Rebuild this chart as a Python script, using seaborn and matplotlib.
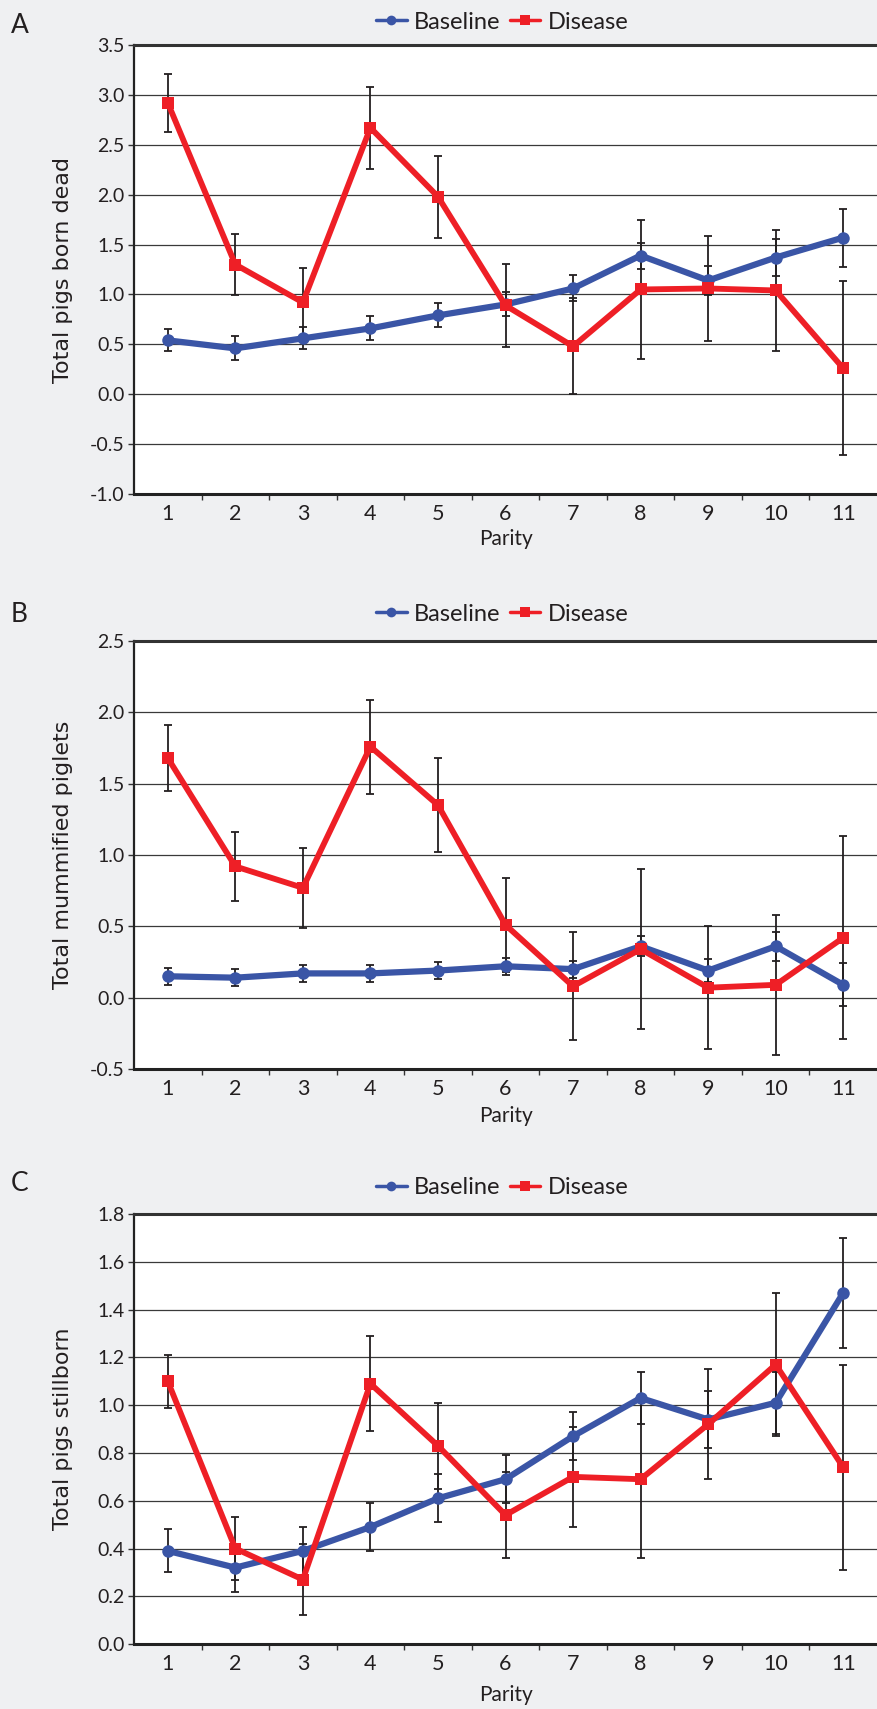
import numpy as np
import pandas as pd
import seaborn as sns
import matplotlib.pyplot as plt
from matplotlib.lines import Line2D
from matplotlib.ticker import FixedLocator, FormatStrFormatter

# Data (means and error bar half-widths)
parity = list(range(1, 12))

# A - total pigs born dead
dead_base = [0.54, 0.46, 0.56, 0.66, 0.79, 0.90, 1.06, 1.39, 1.14, 1.37, 1.57]
dead_base_err = [0.11, 0.12, 0.11, 0.12, 0.12, 0.12, 0.13, 0.13, 0.15, 0.19, 0.29]
dead_dis = [2.92, 1.30, 0.92, 2.67, 1.98, 0.89, 0.48, 1.05, 1.06, 1.04, 0.26]
dead_dis_err = [0.29, 0.31, 0.35, 0.41, 0.41, 0.42, 0.48, 0.70, 0.53, 0.61, 0.87]

# B - total mummified piglets
mummy_base = [0.15, 0.14, 0.17, 0.17, 0.19, 0.22, 0.20, 0.36, 0.19, 0.36, 0.09]
mummy_base_err = [0.06, 0.06, 0.06, 0.06, 0.06, 0.06, 0.06, 0.07, 0.08, 0.10, 0.15]
mummy_dis = [1.68, 0.92, 0.77, 1.76, 1.35, 0.51, 0.08, 0.34, 0.07, 0.09, 0.42]
mummy_dis_err = [0.23, 0.24, 0.28, 0.33, 0.33, 0.33, 0.38, 0.56, 0.43, 0.49, 0.71]

# C - total pigs stillborn
still_base = [0.39, 0.32, 0.39, 0.49, 0.61, 0.69, 0.87, 1.03, 0.94, 1.01, 1.47]
still_base_err = [0.09, 0.10, 0.10, 0.10, 0.10, 0.10, 0.10, 0.11, 0.12, 0.13, 0.23]
still_dis = [1.10, 0.40, 0.27, 1.09, 0.83, 0.54, 0.70, 0.69, 0.92, 1.17, 0.74]
still_dis_err = [0.11, 0.13, 0.15, 0.20, 0.18, 0.18, 0.21, 0.33, 0.23, 0.30, 0.43]

BLUE = "#3a55a6"
RED = "#ee1f26"
BG = "#eff0f2"
INK = "#231f20"

sns.set_theme(style="white")
plt.rcParams["font.family"] = ["Lato", "DejaVu Sans"]
plt.rcParams["axes.unicode_minus"] = False

fig = plt.figure(figsize=(8.77, 17.09), dpi=100, facecolor=BG)


def draw_panel(ax, base, base_err, dis, dis_err, ylabel, ylim, ystep, xlab_y):
    df = pd.concat([
        pd.DataFrame({"parity": parity, "value": base, "group": "Baseline"}),
        pd.DataFrame({"parity": parity, "value": dis, "group": "Disease"}),
    ])

    # error bars sit under the lines
    ax.errorbar(parity, base, yerr=base_err, fmt="none", ecolor=INK,
                elinewidth=1.3, capsize=3, capthick=1.3, zorder=2)
    ax.errorbar(parity, dis, yerr=dis_err, fmt="none", ecolor=INK,
                elinewidth=1.3, capsize=3, capthick=1.3, zorder=2)

    sns.lineplot(data=df[df["group"] == "Baseline"], x="parity", y="value",
                 color=BLUE, lw=4.5, marker="o", markersize=9,
                 markeredgewidth=0, errorbar=None, legend=False, ax=ax, zorder=3)
    sns.lineplot(data=df[df["group"] == "Disease"], x="parity", y="value",
                 color=RED, lw=4.2, marker="s", markersize=9,
                 markeredgewidth=0, errorbar=None, legend=False, ax=ax, zorder=4)

    ax.set_facecolor("white")
    ax.set_xlim(0.5, 11.5)
    ax.set_ylim(*ylim)
    ax.set_xticks(parity)
    ax.set_xticklabels([str(p) for p in parity])
    ax.xaxis.set_minor_locator(FixedLocator(np.arange(1.5, 11, 1)))
    ax.set_yticks(np.arange(ylim[0], ylim[1] + 1e-6, ystep))
    ax.yaxis.set_major_formatter(FormatStrFormatter("%.1f"))

    ax.tick_params(axis="x", which="major", length=0, pad=7, labelsize=15.5,
                   labelcolor=INK, bottom=True)
    ax.tick_params(axis="x", which="minor", length=4, width=1, color="#333333",
                   direction="out", bottom=True)
    ax.tick_params(axis="y", which="major", length=4, width=1, color="#333333",
                   direction="out", pad=3, labelsize=14, labelcolor=INK, left=True)

    ax.grid(axis="y", color="#3a3a3a", lw=0.9)
    ax.set_axisbelow(True)
    ax.spines["right"].set_visible(False)
    ax.spines["left"].set_color("#222222")
    ax.spines["left"].set_linewidth(1.6)
    ax.spines["bottom"].set_color("#222222")
    ax.spines["bottom"].set_linewidth(2.2)
    ax.spines["top"].set_color("#333333")
    ax.spines["top"].set_linewidth(2.2)

    ax.set_ylabel(ylabel, family="DejaVu Sans", fontsize=16, color=INK)
    ax.yaxis.set_label_coords(-0.082, 0.5)
    ax.set_xlabel("Parity", fontsize=15, color=INK)
    ax.xaxis.set_label_coords(0.5, xlab_y)


def add_legend(ax, y):
    handles = [
        Line2D([], [], color=BLUE, lw=2.5, marker="o", markersize=7, markeredgewidth=0),
        Line2D([], [], color=RED, lw=2.5, marker="s", markersize=7, markeredgewidth=0),
    ]
    ax.legend(handles, ["Baseline", "Disease"], loc="center",
              bbox_to_anchor=(0.5725, y), bbox_transform=fig.transFigure,
              ncol=2, frameon=False, fontsize=17, handlelength=1.3,
              handletextpad=0.3, columnspacing=0.4, labelcolor=INK)


# Panel layout in figure fractions
axA = fig.add_axes([0.1528, 0.7109, 0.8472, 0.2628])
axB = fig.add_axes([0.1528, 0.3745, 0.8472, 0.2504])
axC = fig.add_axes([0.1528, 0.0380, 0.8472, 0.2516])

draw_panel(axA, dead_base, dead_base_err, dead_dis, dead_dis_err,
           "Total pigs born dead", (-1.0, 3.5), 0.5, -0.077)
draw_panel(axB, mummy_base, mummy_base_err, mummy_dis, mummy_dis_err,
           "Total mummified piglets", (-0.5, 2.5), 0.5, -0.086)
draw_panel(axC, still_base, still_base_err, still_dis, still_dis_err,
           "Total pigs stillborn", (0.0, 1.8), 0.2, -0.095)

add_legend(axA, 0.987)
add_legend(axB, 0.6407)
add_legend(axC, 0.3049)

# Panel letters
for letter, y in [("A", 0.9848), ("B", 0.6407), ("C", 0.3072)]:
    fig.text(0.012, y, letter, fontsize=19, va="center", ha="left", color=INK,
             family=["Liberation Sans Narrow", "Lato"])

fig.savefig("out.png", dpi=100, facecolor=BG)
